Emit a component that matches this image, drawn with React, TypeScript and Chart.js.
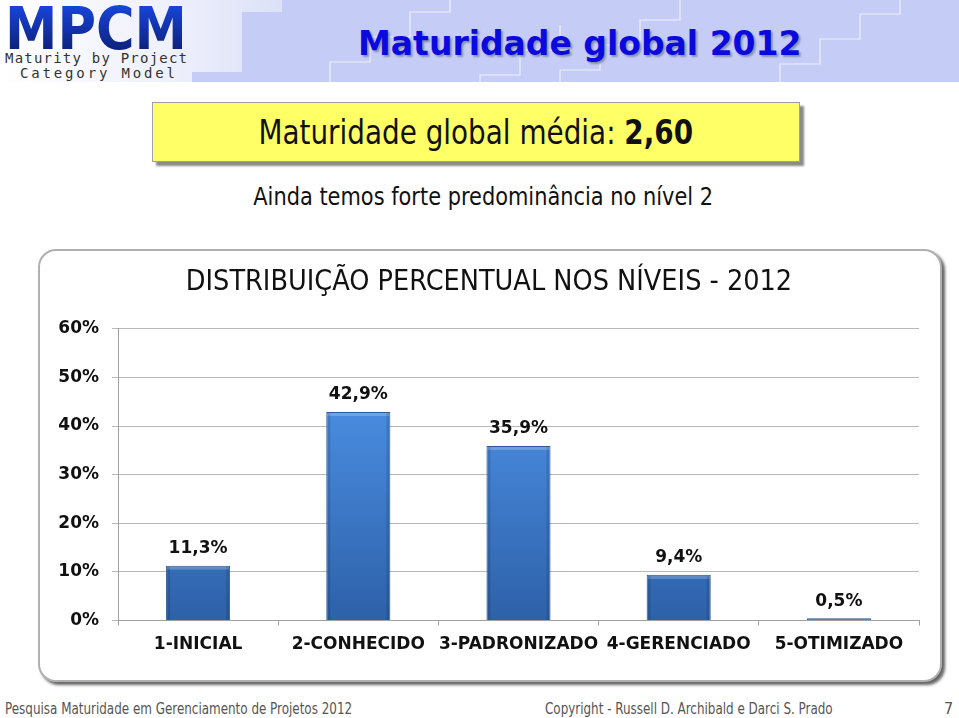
import React, { useEffect, useRef } from "react";
import { Chart, registerables } from "chart.js";

Chart.register(...registerables);

const categories = ["1-INICIAL", "2-CONHECIDO", "3-PADRONIZADO", "4-GERENCIADO", "5-OTIMIZADO"];
const percentages = [11.3, 42.9, 35.9, 9.4, 0.5];
const yTicks = [0, 10, 20, 30, 40, 50, 60];
const chartTitle = "DISTRIBUIÇÃO PERCENTUAL NOS NÍVEIS - 2012";

const NARROW = "'Liberation Sans Narrow', 'DejaVu Sans Condensed', 'Arial Narrow', sans-serif";
const BOLDF = "'DejaVu Sans', Verdana, sans-serif";

const fmt = (v: number) => v.toFixed(1).replace(".", ",") + "%";

const labelPlugin = {
  id: "barLabels",
  afterDatasetsDraw(chart: any) {
    const ctx = chart.ctx;
    const meta = chart.getDatasetMeta(0);
    ctx.save();
    // bevel shading on bars
    meta.data.forEach((bar: any) => {
      const w = bar.width;
      const left = bar.x - w / 2;
      const top = bar.y;
      const h = bar.base - bar.y;
      if (h < 4) return;
      ctx.fillStyle = "rgba(255,255,255,0.22)";
      ctx.fillRect(left + 1, top + 1, w - 2, 3);
      ctx.fillStyle = "rgba(0,0,0,0.12)";
      ctx.fillRect(left + 1, top + 1, 3, h - 1);
      ctx.fillRect(left + w - 4, top + 1, 3, h - 1);
    });
    ctx.font = `bold 17px ${BOLDF}`;
    ctx.fillStyle = "#111";
    ctx.textAlign = "center";
    ctx.textBaseline = "middle";
    meta.data.forEach((bar: any, i: number) => {
      ctx.fillText(fmt(percentages[i]), bar.x, bar.y - 17);
    });
    ctx.restore();
  },
};

function BarChart() {
  const ref = useRef<HTMLCanvasElement>(null);
  useEffect(() => {
    if (!ref.current) return;
    const chart = new Chart(ref.current, {
      type: "bar",
      data: {
        labels: categories,
        datasets: [
          {
            data: percentages,
            backgroundColor: (c: any) => {
              const { chart } = c;
              const area = chart.chartArea;
              if (!area) return "#3f7bd0";
              const g = chart.ctx.createLinearGradient(0, area.top + 80, 0, area.bottom);
              g.addColorStop(0, "#4a8ce0");
              g.addColorStop(1, "#2d61a8");
              return g;
            },
            borderColor: "#2a5796",
            borderWidth: 1,
            barPercentage: 0.8,
            categoryPercentage: 0.5,
          },
        ],
      },
      options: {
        animation: false,
        responsive: true,
        maintainAspectRatio: false,
        layout: { padding: { left: 21, right: 21, top: 0, bottom: 16 } },
        plugins: {
          legend: { display: false },
          tooltip: { enabled: false },
          title: {
            display: true,
            text: chartTitle,
            color: "#111",
            font: { family: NARROW, size: 28.5, weight: "normal" },
            padding: { top: 16, bottom: 29.5 },
          },
        },
        scales: {
          x: {
            offset: true,
            grid: { drawOnChartArea: false, drawTicks: true, tickLength: 5, offset: true, color: "#a0a0a0" },
            border: { display: true, color: "#a0a0a0" },
            ticks: {
              color: "#111",
              font: { family: BOLDF, size: 17, weight: "bold" },
              padding: 9,
              maxRotation: 0,
              autoSkip: false,
            },
          },
          y: {
            min: yTicks[0],
            max: yTicks[yTicks.length - 1],
            afterFit: (s: any) => {
              s.width = 59;
            },
            afterBuildTicks: (s: any) => {
              s.ticks = yTicks.map((v) => ({ value: v }));
            },
            grid: { color: "#b8b8b8", tickLength: 6, drawTicks: true },
            border: { display: true, color: "#a0a0a0" },
            ticks: {
              color: "#111",
              font: { family: BOLDF, size: 17, weight: "bold" },
              padding: 13,
              callback: (v: any) => v + "%",
            },
          },
        },
      },
      plugins: [labelPlugin],
    } as any);
    return () => chart.destroy();
  }, []);
  return <canvas ref={ref} />;
}

function Header() {
  const steps: string[] = [
    "330,82 330,62 370,62 370,37 410,37 410,12 450,12 450,0",
    "560,82 560,70 600,70 600,45 640,45 640,20 680,20 680,0",
    "780,82 780,64 820,64 820,39 860,39 860,14 900,14 900,0",
    "480,82 480,75 520,75 520,50 560,50 560,25",
  ];
  return (
    <div style={{ position: "absolute", left: 0, top: 0, width: 959, height: 82, background: "#c5cdf6", overflow: "hidden" }}>
      <svg width={959} height={82} style={{ position: "absolute", left: 0, top: 0 }}>
        <defs>
          <linearGradient id="lg" x1="0" x2="1" y1="0" y2="0">
            <stop offset="0" stopColor="#ffffff" />
            <stop offset="0.6" stopColor="#eef0fb" />
            <stop offset="1" stopColor="#dce1f8" />
          </linearGradient>
          <linearGradient id="mp" x1="0" x2="0" y1="0" y2="1">
            <stop offset="0" stopColor="#1a4cf0" />
            <stop offset="1" stopColor="#0a1860" />
          </linearGradient>
        </defs>
        <polygon points="0,0 282,0 282,12 242,12 242,72 192,72 192,82 0,82" fill="url(#lg)" />
        {steps.map((p, i) => (
          <polyline key={i} points={p} fill="none" stroke="rgba(255,255,255,0.7)" strokeWidth={1.2} />
        ))}
        <text x={5} y={49} fontFamily={BOLDF} fontWeight="bold" fontSize={58} fill="url(#mp)" textLength={182} lengthAdjust="spacingAndGlyphs">MPCM</text>
        <text x={5} y={63} fontFamily="'DejaVu Sans Mono', monospace" fontSize={14} fill="#333" textLength={182}>Maturity by Project</text>
        <text x={20} y={78} fontFamily="'DejaVu Sans Mono', monospace" fontSize={14} fill="#333" textLength={155}>Category Model</text>
      </svg>
      <div
        style={{
          position: "absolute",
          left: 358,
          top: 22,
          width: 446,
          fontFamily: BOLDF,
          fontWeight: "bold",
          fontSize: 33,
          color: "#0a0ae0",
          textShadow: "2px 2px 2px #8890b0",
          whiteSpace: "nowrap",
          lineHeight: "44px",
        }}
      >
        Maturidade global 2012
      </div>
    </div>
  );
}

const squeeze = (s: number, origin: string = "center"): React.CSSProperties => ({
  display: "inline-block",
  transform: `scaleX(${s})`,
  transformOrigin: origin,
});

export default function App() {
  return (
    <div style={{ position: "absolute", left: 0, top: 0, width: 959, height: 718, background: "#fff", overflow: "hidden" }}>
      <Header />
      <div
        style={{
          position: "absolute",
          left: 152,
          top: 102,
          width: 646,
          height: 58,
          background: "#ffff66",
          border: "1px solid #a0a0a0",
          boxShadow: "4px 4px 2px #8a8a8a",
          display: "flex",
          alignItems: "center",
          justifyContent: "center",
          fontFamily: NARROW,
          fontSize: 34,
          color: "#111",
        }}
      >
        <span style={squeeze(0.91)}>
          Maturidade global média: <b>2,60</b>
        </span>
      </div>
      <div
        style={{
          position: "absolute",
          left: 0,
          top: 180,
          width: 966,
          textAlign: "center",
          fontFamily: NARROW,
          fontSize: 25,
          color: "#111",
          lineHeight: "34px",
        }}
      >
        <span style={squeeze(0.93)}>Ainda temos forte predominância no nível 2</span>
      </div>
      <div
        style={{
          position: "absolute",
          left: 38,
          top: 249,
          width: 900,
          height: 429,
          border: "2px solid #b0b0b0",
          borderRadius: 18,
          boxShadow: "3px 3px 3px #666",
          background: "#fff",
        }}
      />
      <div style={{ position: "absolute", left: 38, top: 249, width: 902, height: 431 }}>
        <BarChart />
      </div>
      <div style={{ position: "absolute", left: 5, top: 699, fontFamily: NARROW, fontSize: 16, color: "#555", whiteSpace: "nowrap" }}>
        <span style={squeeze(0.83, "left")}>Pesquisa Maturidade em Gerenciamento de Projetos 2012</span>
      </div>
      <div style={{ position: "absolute", left: 545, top: 699, fontFamily: NARROW, fontSize: 16, color: "#555", whiteSpace: "nowrap" }}>
        <span style={squeeze(0.83, "left")}>Copyright - Russell D. Archibald e Darci S. Prado</span>
      </div>
      <div style={{ position: "absolute", left: 944, top: 699, fontFamily: NARROW, fontSize: 16, color: "#555" }}>7</div>
    </div>
  );
}
